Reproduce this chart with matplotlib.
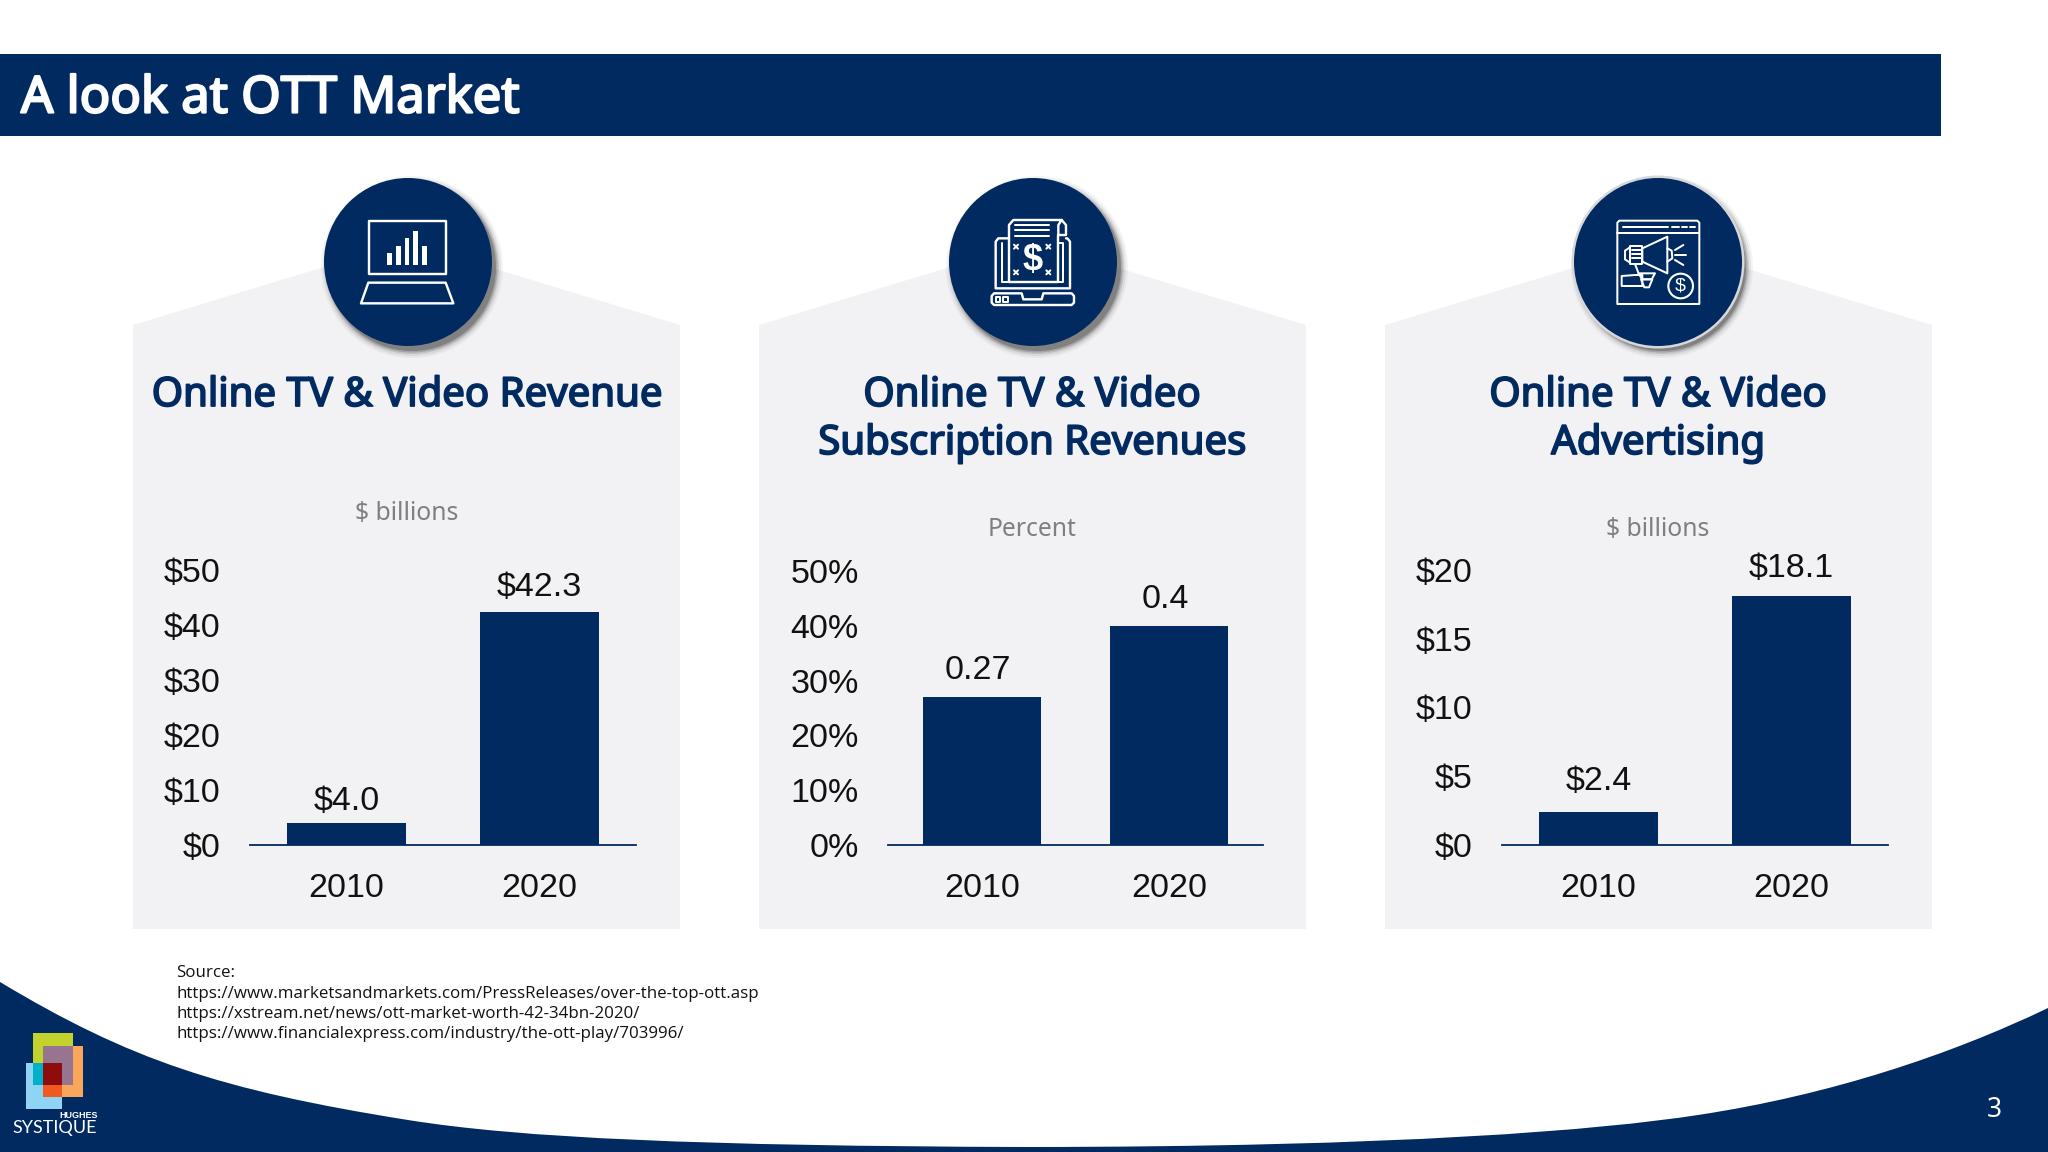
#!/usr/bin/env python3
"""Recreate the OTT market slide with three small bar charts."""

from __future__ import annotations

import matplotlib as mpl

mpl.use("Agg")
import matplotlib.patheffects as pe
import matplotlib.pyplot as plt
from matplotlib.patches import Circle, PathPatch, Polygon, Rectangle
from matplotlib.path import Path

WIDTH = 2048
HEIGHT = 1152
NAVY = "#002a60"
PANEL = "#f2f2f4"
GREY = "#7f7f7f"
HEAD_FONT = "Noto Sans"
CHART_FONT = "Liberation Sans"

years = ["2010", "2020"]

revenue_values = [4.0, 42.3]
revenue_labels = ["$4.0", "$42.3"]
revenue_ticks = [0, 10, 20, 30, 40, 50]
revenue_ticklabels = ["$0", "$10", "$20", "$30", "$40", "$50"]

subscription_values = [0.27, 0.4]
subscription_labels = ["0.27", "0.4"]
subscription_ticks = [0, 0.1, 0.2, 0.3, 0.4, 0.5]
subscription_ticklabels = ["0%", "10%", "20%", "30%", "40%", "50%"]

advertising_values = [2.4, 18.1]
advertising_labels = ["$2.4", "$18.1"]
advertising_ticks = [0, 5, 10, 15, 20]
advertising_ticklabels = ["$0", "$5", "$10", "$15", "$20"]

source_lines = [
    "Source:",
    "https://www.marketsandmarkets.com/PressReleases/over-the-top-ott.asp",
    "https://xstream.net/news/ott-market-worth-42-34bn-2020/",
    "https://www.financialexpress.com/industry/the-ott-play/703996/",
]


def draw_panel(page, left, right):
    middle = (left + right) / 2
    outline = [(left, 929), (left, 325), (middle, 242), (right, 325), (right, 929)]
    page.add_patch(Polygon(outline, closed=True, facecolor=PANEL, edgecolor="none", zorder=1))


def draw_badge(page, x, y, ring=False):
    for grow, alpha in [(7, 0.05), (5, 0.08), (3, 0.14), (1.5, 0.2), (0, 0.3)]:
        page.add_patch(Circle((x + 4, y + 5), 84 + grow, facecolor="#303030", alpha=alpha,
                              edgecolor="none", zorder=2))
    if ring:
        page.add_patch(Circle((x, y), 86.5, facecolor="#d8d8dc", edgecolor="none", zorder=2.5))
    page.add_patch(Circle((x, y), 84, facecolor=NAVY, edgecolor="none", zorder=3))


def icon_line(page, origin, points, width=2.4, closed=False):
    pts = [(origin[0] + px / 3, origin[1] + py / 3) for px, py in points]
    page.add_patch(Polygon(pts, closed=closed, fill=False, edgecolor="white", linewidth=width * 0.72,
                           joinstyle="round", capstyle="round", zorder=4))


def icon_fill(page, origin, left, top, right, bottom):
    page.add_patch(Rectangle((origin[0] + left / 3, origin[1] + top / 3), (right - left) / 3,
                             (bottom - top) / 3, facecolor="white", edgecolor="none", zorder=4))


def draw_laptop_chart_icon(page):
    origin = (300, 160)
    icon_line(page, origin, [(207, 183), (437, 183), (437, 343), (207, 343)], closed=True)
    icon_line(page, origin, [(205, 368), (437, 368), (460, 430), (183, 430)], closed=True)
    for left, top in [(262, 280), (288, 258), (314, 234), (340, 212), (366, 258)]:
        icon_fill(page, origin, left, top, left + 14, 316)


def draw_paper_icon(page):
    origin = (930, 160)
    icon_line(page, origin, [(237, 365), (237, 195), (250, 180), (395, 180), (408, 195), (408, 225),
                             (385, 225), (385, 195), (395, 180)])
    icon_line(page, origin, [(385, 225), (385, 365), (237, 365)])
    icon_line(page, origin, [(237, 235), (205, 235), (197, 245), (197, 385), (420, 385), (420, 245),
                             (412, 235), (408, 235)])
    icon_line(page, origin, [(215, 250), (215, 365), (237, 365)], width=2)
    icon_line(page, origin, [(385, 250), (400, 250), (400, 365), (385, 365)], width=2)
    for y in [195, 210, 228]:
        icon_line(page, origin, [(255, y), (357, y)], width=2)
    for x, y in [(258, 260), (355, 260), (258, 337), (355, 337)]:
        icon_line(page, origin, [(x - 6, y - 6), (x + 6, y + 6)], width=2)
        icon_line(page, origin, [(x - 6, y + 6), (x + 6, y - 6)], width=2)
    icon_line(page, origin, [(185, 408), (192, 400), (275, 400), (280, 418), (335, 418), (340, 400),
                             (425, 400), (432, 408), (432, 428), (425, 435), (192, 435), (185, 428)],
              closed=True)
    for left in [198, 220]:
        icon_line(page, origin, [(left, 412), (left + 13, 412), (left + 13, 426), (left, 426)],
                  width=2, closed=True)
    page.text(origin[0] + 307 / 3, origin[1] + 302 / 3, "$", color="white", fontsize=26, fontweight="bold",
              family=CHART_FONT, ha="center", va="center", zorder=4)


def draw_megaphone_icon(page):
    origin = (1555, 160)
    icon_line(page, origin, [(187, 188), (193, 182), (427, 182), (433, 188), (433, 432), (187, 432)],
              closed=True, width=2)
    icon_line(page, origin, [(187, 220), (433, 220)], width=2)
    icon_line(page, origin, [(203, 200), (340, 200)], width=2)
    for start, stop in [(352, 372), (380, 397), (405, 420)]:
        icon_line(page, origin, [(start, 200), (stop, 200)], width=2)
    icon_line(page, origin, [(262, 265), (337, 230), (337, 340), (262, 305)], closed=True, width=2)
    icon_line(page, origin, [(225, 258), (262, 258), (262, 312), (225, 312)], closed=True, width=2)
    icon_line(page, origin, [(225, 262), (210, 272), (210, 298), (225, 308)], width=2)
    icon_line(page, origin, [(337, 265), (350, 272), (352, 295), (337, 305)], width=2)
    for y in [270, 282, 294]:
        icon_line(page, origin, [(232, y), (258, y)], width=2)
    icon_line(page, origin, [(360, 270), (385, 255)], width=2)
    icon_line(page, origin, [(360, 285), (392, 285)], width=2)
    icon_line(page, origin, [(360, 300), (385, 315)], width=2)
    icon_line(page, origin, [(240, 312), (250, 338)], width=2)
    icon_line(page, origin, [(200, 348), (240, 345), (262, 345), (262, 378), (232, 378), (200, 378)],
              closed=True, width=2)
    icon_line(page, origin, [(250, 340), (300, 340), (290, 358), (262, 358)], closed=True, width=2)
    icon_line(page, origin, [(258, 358), (292, 358), (282, 382), (268, 382)], closed=True, width=2)
    page.add_patch(Circle((origin[0] + 377 / 3, origin[1] + 378 / 3), 37 / 3, fill=False, edgecolor="white",
                          linewidth=1.5, zorder=4))
    page.text(origin[0] + 377 / 3, origin[1] + 378 / 3, "$", color="white", fontsize=14,
              family=CHART_FONT, ha="center", va="center", zorder=4)


def draw_logo(page):
    # overlaps are painted with their own colours
    blocks = [
        (33, 1033, 73, 1085, "#c3d32e"),
        (43, 1046, 83, 1097, "#f9a65a"),
        (26, 1063, 62, 1109, "#8fd3f5"),
        (43, 1046, 73, 1085, "#97748f"),
        (33, 1063, 62, 1085, "#00b0c8"),
        (43, 1085, 62, 1097, "#f05a1e"),
        (43, 1063, 62, 1085, "#8e0c0c"),
    ]
    for left, top, right, bottom, colour in blocks:
        page.add_patch(Rectangle((left, top), right - left, bottom - top, facecolor=colour,
                                 edgecolor="none", zorder=5))
    page.text(98, 1116, "HUGHES", color="white", fontsize=6.5, fontweight="bold", family=CHART_FONT,
              ha="right", va="center", zorder=5)
    page.text(12, 1128, "SYSTIQUE", color="white", fontsize=13, family="Lato", ha="left", va="center",
              zorder=5)


def draw_swoosh(page):
    codes = [Path.MOVETO] + [Path.CURVE4] * 12 + [Path.LINETO, Path.LINETO, Path.CLOSEPOLY]
    points = [
        (0, 982),
        (130, 1060), (220, 1090), (408, 1120),
        (520, 1138), (700, 1146), (1024, 1147),
        (1400, 1147), (1600, 1130), (1698, 1115),
        (1830, 1095), (1950, 1055), (2048, 1008),
        (2048, 1152), (0, 1152), (0, 982),
    ]
    page.add_patch(PathPatch(Path(points, codes), facecolor=NAVY, edgecolor="none", zorder=1))


def draw_chart(fig, box, values, labels, ticks, ticklabels, offsets, width):
    left, top, right, bottom = box
    ax = fig.add_axes([left / WIDTH, 1 - bottom / HEIGHT, (right - left) / WIDTH, (bottom - top) / HEIGHT])
    ax.patch.set_alpha(0)
    bars = ax.bar(years, values, width=width, color=NAVY)
    ax.set_xlim(-0.5, 1.5)
    ax.set_ylim(ticks[0], ticks[-1])
    ax.set_yticks(ticks, ticklabels)
    for side in ["top", "left", "right"]:
        ax.spines[side].set_visible(False)
    ax.spines["bottom"].set_color(NAVY)
    ax.spines["bottom"].set_linewidth(1.3)
    ax.tick_params(axis="y", length=0, pad=21, labelsize=24.5, labelcolor="#111111")
    ax.tick_params(axis="x", length=0, pad=20.5, labelsize=24.5, labelcolor="#111111")
    for tick in ax.get_xticklabels() + ax.get_yticklabels():
        tick.set_family(CHART_FONT)
    for bar, label, offset in zip(bars, labels, offsets):
        ax.annotate(label, (bar.get_x() + bar.get_width() / 2, bar.get_height()), xytext=offset,
                    textcoords="offset points", ha="center", va="center", fontsize=24.5,
                    family=CHART_FONT, color="#111111")


def main():
    fig = plt.figure(figsize=(WIDTH / 100, HEIGHT / 100), dpi=100, facecolor="white")
    page = fig.add_axes([0, 0, 1, 1])
    page.set_xlim(0, WIDTH)
    page.set_ylim(HEIGHT, 0)
    page.axis("off")

    page.add_patch(Rectangle((0, 54), 1941, 82, facecolor=NAVY, edgecolor="none", zorder=1))
    banner = page.text(21, 99, "A look at OTT Market", color="white", fontsize=36.5, family=HEAD_FONT,
                       ha="left", va="center", zorder=2)
    # the installed Noto Sans has no bold cut, so thicken it with a stroke
    banner.set_path_effects([pe.withStroke(linewidth=1.6, foreground="white")])

    for left, right in [(133, 680), (759, 1306), (1385, 1932)]:
        draw_panel(page, left, right)
    draw_badge(page, 408, 262)
    draw_badge(page, 1033, 262)
    draw_badge(page, 1658, 262, ring=True)
    draw_laptop_chart_icon(page)
    draw_paper_icon(page)
    draw_megaphone_icon(page)

    title_style = dict(color=NAVY, fontsize=28.9, family=HEAD_FONT, ha="center", va="center", zorder=2,
                       path_effects=[pe.withStroke(linewidth=1.3, foreground=NAVY)])
    page.text(407, 396, "Online TV & Video Revenue", **title_style)
    page.text(1032, 396, "Online TV & Video", **title_style)
    page.text(1032, 444, "Subscription Revenues", **title_style)
    page.text(1658, 396, "Online TV & Video", **title_style)
    page.text(1658, 444, "Advertising", **title_style)

    unit_style = dict(color=GREY, fontsize=17.8, family=HEAD_FONT, ha="center", va="center", zorder=2)
    page.text(407, 513, "$ billions", **unit_style)
    page.text(1032, 530, "Percent", **unit_style)
    page.text(1658, 530, "$ billions", **unit_style)

    draw_chart(fig, (250, 570, 636, 845), revenue_values, revenue_labels, revenue_ticks, revenue_ticklabels,
               ((0, 15.5), (0, 18)), 0.62)
    draw_chart(fig, (888, 571, 1263, 845), subscription_values, subscription_labels, subscription_ticks,
               subscription_ticklabels, ((-3, 19), (-3, 19)), 0.627)
    draw_chart(fig, (1502, 570, 1888, 845), advertising_values, advertising_labels, advertising_ticks,
               advertising_ticklabels, ((0, 22), (0, 20)), 0.62)

    for index, line in enumerate(source_lines):
        page.text(176, 973 + index * 20.5, line, color="#111111", fontsize=12.2, family="Open Sans", ha="left",
                  va="center", zorder=2)

    draw_swoosh(page)
    draw_logo(page)
    page.text(1994, 1110, "3", color="white", fontsize=19, family=HEAD_FONT, ha="center", va="center", zorder=5)

    fig.savefig("out.png", dpi=100, facecolor="white")
    plt.close(fig)


if __name__ == "__main__":
    main()
